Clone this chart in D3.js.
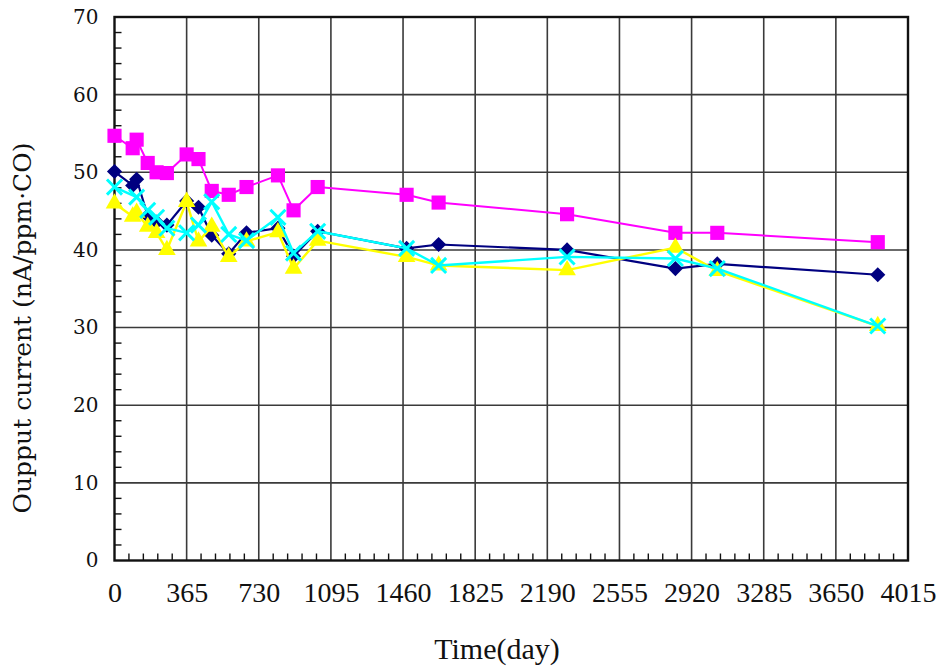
<!DOCTYPE html>
<html>
<head>
<meta charset="utf-8">
<script src="https://cdn.jsdelivr.net/npm/d3@7"></script>
<style>
  html, body { margin: 0; padding: 0; background: #fff; }
  svg { display: block; }
</style>
</head>
<body>
<svg id="chart" width="941" height="667"></svg>
<script>
// Sensor output current over time (days), four sensors
const daysNavy    = [0, 92, 112, 168, 213, 265, 365, 425, 492, 578, 668, 827, 906, 1028, 1478, 1640, 2290, 2838, 3050, 3862];
const navyValues  = [50.1, 48.3, 49.1, 44.4, 43.6, 43.2, 46.3, 45.5, 41.9, 39.5, 42.2, 42.8, 39.2, 42.4, 40.2, 40.7, 40.0, 37.6, 38.2, 36.8];

const daysMagenta   = [0, 92, 112, 168, 213, 265, 365, 425, 492, 578, 668, 827, 906, 1028, 1478, 1640, 2290, 2838, 3050, 3862];
const magentaValues = [54.7, 53.1, 54.2, 51.2, 50.0, 49.9, 52.3, 51.7, 47.6, 47.1, 48.1, 49.6, 45.1, 48.1, 47.1, 46.1, 44.6, 42.2, 42.2, 41.0];

const daysYellow   = [0, 92, 112, 168, 213, 265, 365, 425, 492, 578, 668, 827, 906, 1028, 1478, 1640, 2290, 2838, 3050, 3862];
const yellowValues = [46.0, 44.3, 44.8, 43.0, 42.2, 40.0, 46.2, 41.1, 43.0, 39.1, 41.1, 42.3, 37.6, 41.2, 39.1, 38.0, 37.4, 40.3, 37.3, 30.2];

const daysCyan   = [0, 112, 168, 213, 265, 365, 425, 492, 578, 668, 827, 906, 1028, 1478, 1640, 2290, 2838, 3050, 3862];
const cyanValues = [48.1, 46.8, 45.1, 44.2, 42.8, 42.2, 43.2, 46.2, 42.0, 41.2, 44.2, 39.6, 42.4, 40.2, 38.0, 39.1, 38.9, 37.6, 30.2];

const xTicks = [0, 365, 730, 1095, 1460, 1825, 2190, 2555, 2920, 3285, 3650, 4015];
const yTicks = [0, 10, 20, 30, 40, 50, 60, 70];
const xTitle = "Time(day)";
const yTitle = "Oupput current (nA/ppm\u00B7CO)";

const svg = d3.select("#chart");
const plotL = 114.5, plotR = 908, plotT = 17, plotB = 560.5;

const x = d3.scaleLinear().domain([0, 4015]).range([plotL, plotR]);
const y = d3.scaleLinear().domain([0, 70]).range([plotB, plotT]);

// grid
const grid = svg.append("g");
grid.selectAll("line.gx").data(xTicks.slice(1, -1)).join("line")
  .attr("x1", d => x(d)).attr("x2", d => x(d))
  .attr("y1", plotT).attr("y2", plotB)
  .attr("stroke", "#3a3a3a").attr("stroke-width", 1.6);
grid.selectAll("line.gy").data(yTicks.slice(1, -1)).join("line")
  .attr("y1", d => y(d)).attr("y2", d => y(d))
  .attr("x1", plotL).attr("x2", plotR)
  .attr("stroke", "#3a3a3a").attr("stroke-width", 1.6);

// minor ticks (inside)
const xMinor = d3.range(0, 4015, 73).filter(v => v % 365 !== 0);
svg.append("g").selectAll("line").data(xMinor).join("line")
  .attr("x1", d => x(d)).attr("x2", d => x(d))
  .attr("y1", plotB).attr("y2", plotB - 7)
  .attr("stroke", "#111").attr("stroke-width", 1.4);
const yMinor = d3.range(0, 70, 2).filter(v => v % 10 !== 0);
svg.append("g").selectAll("line").data(yMinor).join("line")
  .attr("y1", d => y(d)).attr("y2", d => y(d))
  .attr("x1", plotL).attr("x2", plotL + 7)
  .attr("stroke", "#111").attr("stroke-width", 1.4);

// frame
svg.append("rect")
  .attr("x", plotL).attr("y", plotT)
  .attr("width", plotR - plotL).attr("height", plotB - plotT)
  .attr("fill", "none").attr("stroke", "#111").attr("stroke-width", 2.4);

// axis labels via d3 axes (tick lines hidden)
const xAxis = svg.append("g").attr("transform", `translate(0,${plotB})`)
  .call(d3.axisBottom(x).tickValues(xTicks).tickSize(0).tickPadding(22).tickFormat(d3.format("d")))
  .attr("font-family", "Liberation Serif").attr("font-size", 28);
xAxis.select(".domain").remove();
xAxis.selectAll("text").attr("fill", "#111");

const yAxis = svg.append("g").attr("transform", `translate(${plotL},0)`)
  .call(d3.axisLeft(y).tickValues(yTicks).tickSize(0).tickPadding(16).tickFormat(d3.format("d")))
  .attr("font-family", "DejaVu Serif").attr("font-size", 20);
yAxis.select(".domain").remove();
yAxis.selectAll("text").attr("fill", "#111");

svg.append("text").attr("x", 497).attr("y", 659)
  .attr("text-anchor", "middle").attr("font-family", "Liberation Serif").attr("font-size", 30)
  .attr("fill", "#111").text(xTitle);
svg.append("text").attr("transform", "translate(31,328) rotate(-90)")
  .attr("text-anchor", "middle").attr("font-family", "DejaVu Serif").attr("font-size", 25)
  .attr("fill", "#111").text(yTitle);

const line = d3.line().x(d => x(d[0])).y(d => y(d[1]));
const zip = (a, b) => a.map((v, i) => [v, b[i]]);

const series = [
  { pts: zip(daysNavy, navyValues), color: "#000080", sym: d3.symbolSquare, rot: 45, size: 115, width: 2.2 },
  { pts: zip(daysMagenta, magentaValues), color: "#FF00FF", sym: d3.symbolSquare, rot: 0, size: 200, width: 2 },
  { pts: zip(daysYellow, yellowValues), color: "#FFFF00", sym: d3.symbolTriangle, rot: 0, size: 135, width: 2.4 },
  { pts: zip(daysCyan, cyanValues), color: "#00FFFF", sym: d3.symbolTimes, rot: 0, size: 150, width: 2.4 }
];

series.forEach(s => {
  const g = svg.append("g");
  g.append("path").datum(s.pts).attr("d", line)
    .attr("fill", "none").attr("stroke", s.color).attr("stroke-width", s.width)
    .attr("stroke-linejoin", "round");
  const sym = d3.symbol().type(s.sym).size(s.size);
  const isX = s.sym === d3.symbolTimes;
  g.selectAll("path.m").data(s.pts).join("path")
    .attr("class", "m")
    .attr("transform", d => `translate(${x(d[0])},${y(d[1])}) rotate(${s.rot})`)
    .attr("d", sym)
    .attr("fill", isX ? "none" : s.color)
    .attr("stroke", s.color)
    .attr("stroke-width", isX ? 3 : 0);
});
</script>
</body>
</html>
